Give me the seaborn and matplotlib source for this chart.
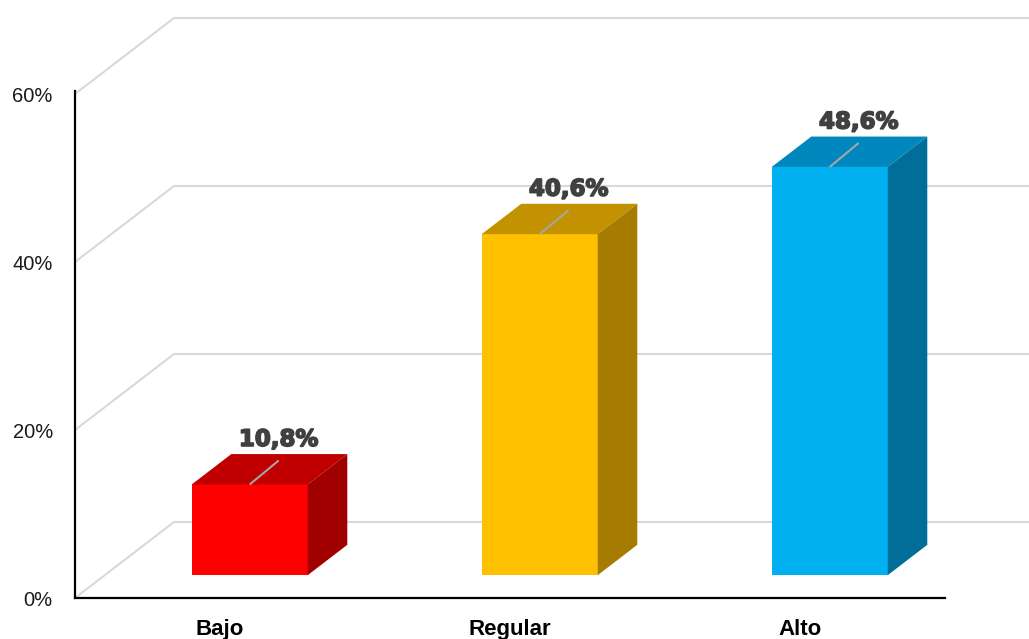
import matplotlib
matplotlib.use("Agg")
import matplotlib.pyplot as plt
import matplotlib.patheffects as pe
from matplotlib.patches import Polygon
import seaborn as sns
import pandas as pd

# Data
categories = ["Bajo", "Regular", "Alto"]
values = [10.8, 40.6, 48.6]
y_ticks = [0, 20, 40, 60]
y_tick_labels = ["0%", "20%", "40%", "60%"]

# Face colours per bar: front, top, side
front_colors = ["#FF0000", "#FFC000", "#00B0F0"]
top_colors = ["#C00000", "#C39200", "#0088BE"]
side_colors = ["#A00000", "#A67C00", "#006E99"]

# Pseudo-3D geometry (in data units)
W_PX, H_PX = 1029, 639
PX_PER_CAT = 290.0
PX_PER_PCT = 8.4
ORIGIN_PX = (75, 598)            # where (-0.5, 0%) sits on the canvas
DEPTH_X = 99 / PX_PER_CAT        # full box depth, horizontal component
DEPTH_Y = 76 / PX_PER_PCT        # full box depth, vertical component
BAR_Z0, BAR_Z1 = 0.30, 0.70      # bar occupies this depth slice
BAR_WIDTH = 0.40

xlim = (-0.5 - ORIGIN_PX[0] / PX_PER_CAT, -0.5 + (W_PX - ORIGIN_PX[0]) / PX_PER_CAT)
ylim = (-(H_PX - ORIGIN_PX[1]) / PX_PER_PCT, ORIGIN_PX[1] / PX_PER_PCT)

sns.set_theme(style="white")
plt.rcParams["font.family"] = ["Liberation Sans", "DejaVu Sans"]

fig = plt.figure(figsize=(W_PX / 100, H_PX / 100), dpi=100)
ax = fig.add_axes([0, 0, 1, 1])

df = pd.DataFrame({"nivel": categories, "pct": values})
sns.barplot(data=df, x="nivel", y="pct", hue="nivel", palette=front_colors,
            saturation=1, width=BAR_WIDTH, linewidth=0, legend=False, ax=ax,
            zorder=2, errorbar=None)

# Gridlines on the side wall and back wall
for v in y_ticks:
    ax.plot([-0.5, -0.5 + DEPTH_X, xlim[1]], [v, v + DEPTH_Y, v + DEPTH_Y],
            color="#D9D9D9", lw=1.5, zorder=0.5, solid_joinstyle="miter")

# Push front faces into the box and add top / side faces
dzx = (BAR_Z1 - BAR_Z0) * DEPTH_X
dzy = (BAR_Z1 - BAR_Z0) * DEPTH_Y
bars = sorted(ax.patches, key=lambda p: p.get_x())
for i, (p, v) in enumerate(zip(bars, values)):
    p.set_x(p.get_x() + BAR_Z0 * DEPTH_X)
    p.set_y(BAR_Z0 * DEPTH_Y)
    x0 = p.get_x()
    x1 = x0 + p.get_width()
    y0 = p.get_y()
    y1 = y0 + p.get_height()
    top = Polygon([(x0, y1), (x1, y1), (x1 + dzx, y1 + dzy), (x0 + dzx, y1 + dzy)],
                  closed=True, facecolor=top_colors[i], edgecolor="none", zorder=2)
    side = Polygon([(x1, y0), (x1 + dzx, y0 + dzy), (x1 + dzx, y1 + dzy), (x1, y1)],
                   closed=True, facecolor=side_colors[i], edgecolor="none", zorder=2)
    ax.add_patch(top)
    ax.add_patch(side)

    # Value label with leader line
    cx = (x0 + x1) / 2
    lx = cx + 29 / PX_PER_CAT
    ax.plot([cx, lx], [y1, y1 + 24 / PX_PER_PCT], color="#A6A6A6", lw=1.5,
            zorder=3, solid_capstyle="butt")
    txt = f"{v:.1f}".replace(".", ",") + "%"
    ax.text(lx, y1 + 45 / PX_PER_PCT, txt, ha="center", va="center",
            fontsize=16.5, fontweight="bold", color="#404040",
            family=["DejaVu Sans"], zorder=4,
            path_effects=[pe.withStroke(linewidth=1.2, foreground="#404040")])

ax.set_xlim(xlim)
ax.set_ylim(ylim)

# Axes lines
for s in ["top", "right"]:
    ax.spines[s].set_visible(False)
ax.spines["left"].set_position(("data", -0.5))
ax.spines["left"].set_bounds(0, 60.3)
ax.spines["bottom"].set_position(("data", 0))
ax.spines["bottom"].set_bounds(-0.5, 2.5)
for s in ["left", "bottom"]:
    ax.spines[s].set_color("black")
    ax.spines[s].set_linewidth(1.6)
    ax.spines[s].set_zorder(5)

ax.set_yticks(y_ticks)
ax.set_yticklabels(y_tick_labels, fontsize=14.5, color="#1a1a1a")
ax.set_xticks(range(len(categories)))
ax.set_xticklabels(categories, fontsize=16, fontweight="bold", color="black")
ax.tick_params(axis="y", length=0, pad=16)
ax.tick_params(axis="x", length=0, pad=15)
ax.set_xlabel("")
ax.set_ylabel("")
ax.grid(False)
ax.patch.set_alpha(0)

fig.savefig("out.png", dpi=100)
